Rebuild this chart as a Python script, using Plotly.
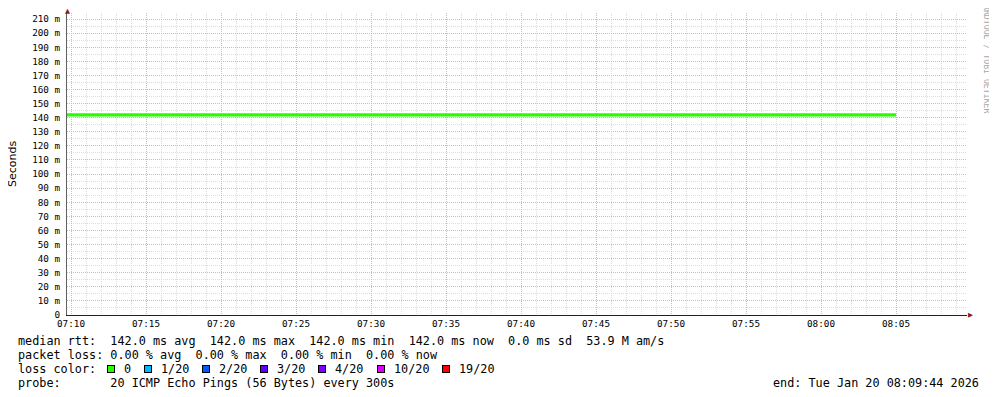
import plotly.graph_objects as go

# ---- data ----
times = ["2026-01-20 07:05:00", "2026-01-20 07:10:00", "2026-01-20 07:15:00",
         "2026-01-20 07:20:00", "2026-01-20 07:25:00", "2026-01-20 07:30:00",
         "2026-01-20 07:35:00", "2026-01-20 07:40:00", "2026-01-20 07:45:00",
         "2026-01-20 07:50:00", "2026-01-20 07:55:00", "2026-01-20 08:00:00",
         "2026-01-20 08:05:00"]
median_rtt = [0.142, 0.142, 0.142, 0.142, 0.142, 0.142, 0.142,
              0.142, 0.142, 0.142, 0.142, 0.142, 0.142]
x_start = "2026-01-20 07:09:44"
x_end = "2026-01-20 08:09:44"
y_max = 0.2143
y_tick_vals = [0.00, 0.01, 0.02, 0.03, 0.04, 0.05, 0.06, 0.07, 0.08, 0.09, 0.10,
               0.11, 0.12, 0.13, 0.14, 0.15, 0.16, 0.17, 0.18, 0.19, 0.20, 0.21]
y_tick_text = ["0", "10 m", "20 m", "30 m", "40 m", "50 m", "60 m", "70 m", "80 m",
               "90 m", "100 m", "110 m", "120 m", "130 m", "140 m", "150 m", "160 m",
               "170 m", "180 m", "190 m", "200 m", "210 m"]
rtt_stats = ["142.0 ms avg", "142.0 ms max", "142.0 ms min", "142.0 ms now",
             "0.0 ms sd", "53.9 M am/s"]
loss_stats = ["0.00 % avg", "0.00 % max", "0.00 % min", "0.00 % now"]
loss_labels = ["0", "1/20", "2/20", "3/20", "4/20", "10/20", "19/20"]
loss_colors = ["#26ff00", "#00b8ff", "#0059ff", "#5e00ff", "#7e00ff", "#dd00ff", "#ff0000"]
probe_text = "20 ICMP Echo Pings (56 Bytes) every 300s"
end_text = "end: Tue Jan 20 08:09:44 2026"

# ---- layout helpers (page pixel coordinates) ----
W, H = 997, 397
PAGE_OFF = 8            # default body margin of the html page
PL, PR, PT, PB = 67, 967, 13, 315   # plot area in page pixels
PW, PH = PR - PL, PB - PT
MONO = "DejaVu Sans Mono"
FS = 11.8
CW = 7.15               # char advance at FS


def px_x(p):
    return (p - PL) / PW


def px_y(p):
    return (PB - p) / PH


def nb(s):
    return s.replace(" ", "\u00a0")


fig = go.Figure()
fig.add_trace(go.Scatter(x=times, y=median_rtt, mode="lines", line_shape="hv",
                         line=dict(color=loss_colors[0], width=3.2),
                         hoverinfo="skip", showlegend=False))

ann = []
lf = dict(family=MONO, size=FS, color="#000000")
line_y = [341, 355, 369, 383]
ann.append(dict(text=nb("median rtt:  " + "  ".join(rtt_stats)), x=px_x(16), y=px_y(line_y[0])))
ann.append(dict(text=nb("packet loss: " + "  ".join(loss_stats)), x=px_x(16), y=px_y(line_y[1])))
ann.append(dict(text=nb("loss color:"), x=px_x(16), y=px_y(line_y[2])))
ann.append(dict(text=nb("probe:       " + probe_text), x=px_x(16), y=px_y(line_y[3])))
for a in ann:
    a.update(xref="paper", yref="paper", xanchor="left", yanchor="middle",
             showarrow=False, font=lf)

cursor = 107
for lab, col in zip(loss_labels, loss_colors):
    ann.append(dict(text="", x=px_x(cursor), y=px_y(line_y[2]), xref="paper", yref="paper",
                    xanchor="left", yanchor="middle", showarrow=False,
                    width=6, height=6, bgcolor=col, bordercolor="#000000",
                    borderwidth=1, borderpad=0))
    ann.append(dict(text=nb(lab), x=px_x(cursor + 15), y=px_y(line_y[2]), xref="paper",
                    yref="paper", xanchor="left", yanchor="middle", showarrow=False, font=lf))
    cursor += 15 + len(lab) * CW + 14.6

ann.append(dict(text=nb(end_text), x=px_x(981), y=px_y(line_y[3]), xref="paper",
                yref="paper", xanchor="right", yanchor="middle", showarrow=False, font=lf))
ann.append(dict(text="Seconds", x=px_x(12), y=px_y(164), xref="paper", yref="paper",
                xanchor="center", yanchor="middle", textangle=-90, showarrow=False,
                font=dict(family="DejaVu Sans", size=11, color="#000000")))
ann.append(dict(text=nb("RRDTOOL / TOBI OETIKER"), x=px_x(987), y=px_y(60), xref="paper",
                yref="paper", xanchor="center", yanchor="middle", textangle=90,
                showarrow=False, font=dict(family=MONO, size=8.2, color="#a8a8a8")))
ann.append(dict(text="▲", x=0, y=px_y(10.5), xref="paper", yref="paper", xanchor="center",
                yanchor="middle", showarrow=False,
                font=dict(family="DejaVu Sans", size=6.5, color="#8b1a1a")))
ann.append(dict(text="▶", x=px_x(970), y=0, xref="paper", yref="paper", xanchor="center",
                yanchor="middle", showarrow=False,
                font=dict(family="DejaVu Sans", size=6.5, color="#8b1a1a")))

fig_w, fig_h = W - PAGE_OFF, H - PAGE_OFF
fig.update_layout(
    width=fig_w, height=fig_h,
    margin=dict(l=PL - PAGE_OFF, r=fig_w - (PR - PAGE_OFF), t=PT - PAGE_OFF,
                b=fig_h - (PB - PAGE_OFF), autoexpand=False),
    paper_bgcolor="#ffffff", plot_bgcolor="#ffffff",
    annotations=ann, showlegend=False,
    xaxis=dict(range=[x_start, x_end], type="date", tickformat="%H:%M",
               tick0="2026-01-20 07:10:00", dtick=300000,
               showgrid=True, gridcolor="#eab0b0", griddash="1px,1px", gridwidth=1,
               minor=dict(dtick=60000, tick0="2026-01-20 07:10:00", showgrid=True,
                          gridcolor="#dcdcdc", griddash="1px,1px", gridwidth=1),
               showline=True, linecolor="#202020", linewidth=1, zeroline=False,
               ticks="", tickfont=dict(family=MONO, size=9.3, color="#000000"),
               fixedrange=True),
    yaxis=dict(range=[0, y_max], tickvals=y_tick_vals, ticktext=y_tick_text,
               showgrid=True, gridcolor="#eab0b0", griddash="1px,1px", gridwidth=1,
               minor=dict(dtick=0.005, tick0=0, showgrid=True,
                          gridcolor="#dcdcdc", griddash="1px,1px", gridwidth=1),
               showline=True, linecolor="#606060", linewidth=1, zeroline=False,
               ticks="outside", ticklen=4, tickcolor="rgba(0,0,0,0)",
               tickfont=dict(family=MONO, size=9.3, color="#000000"),
               fixedrange=True),
)

fig.write_html("out.html")
